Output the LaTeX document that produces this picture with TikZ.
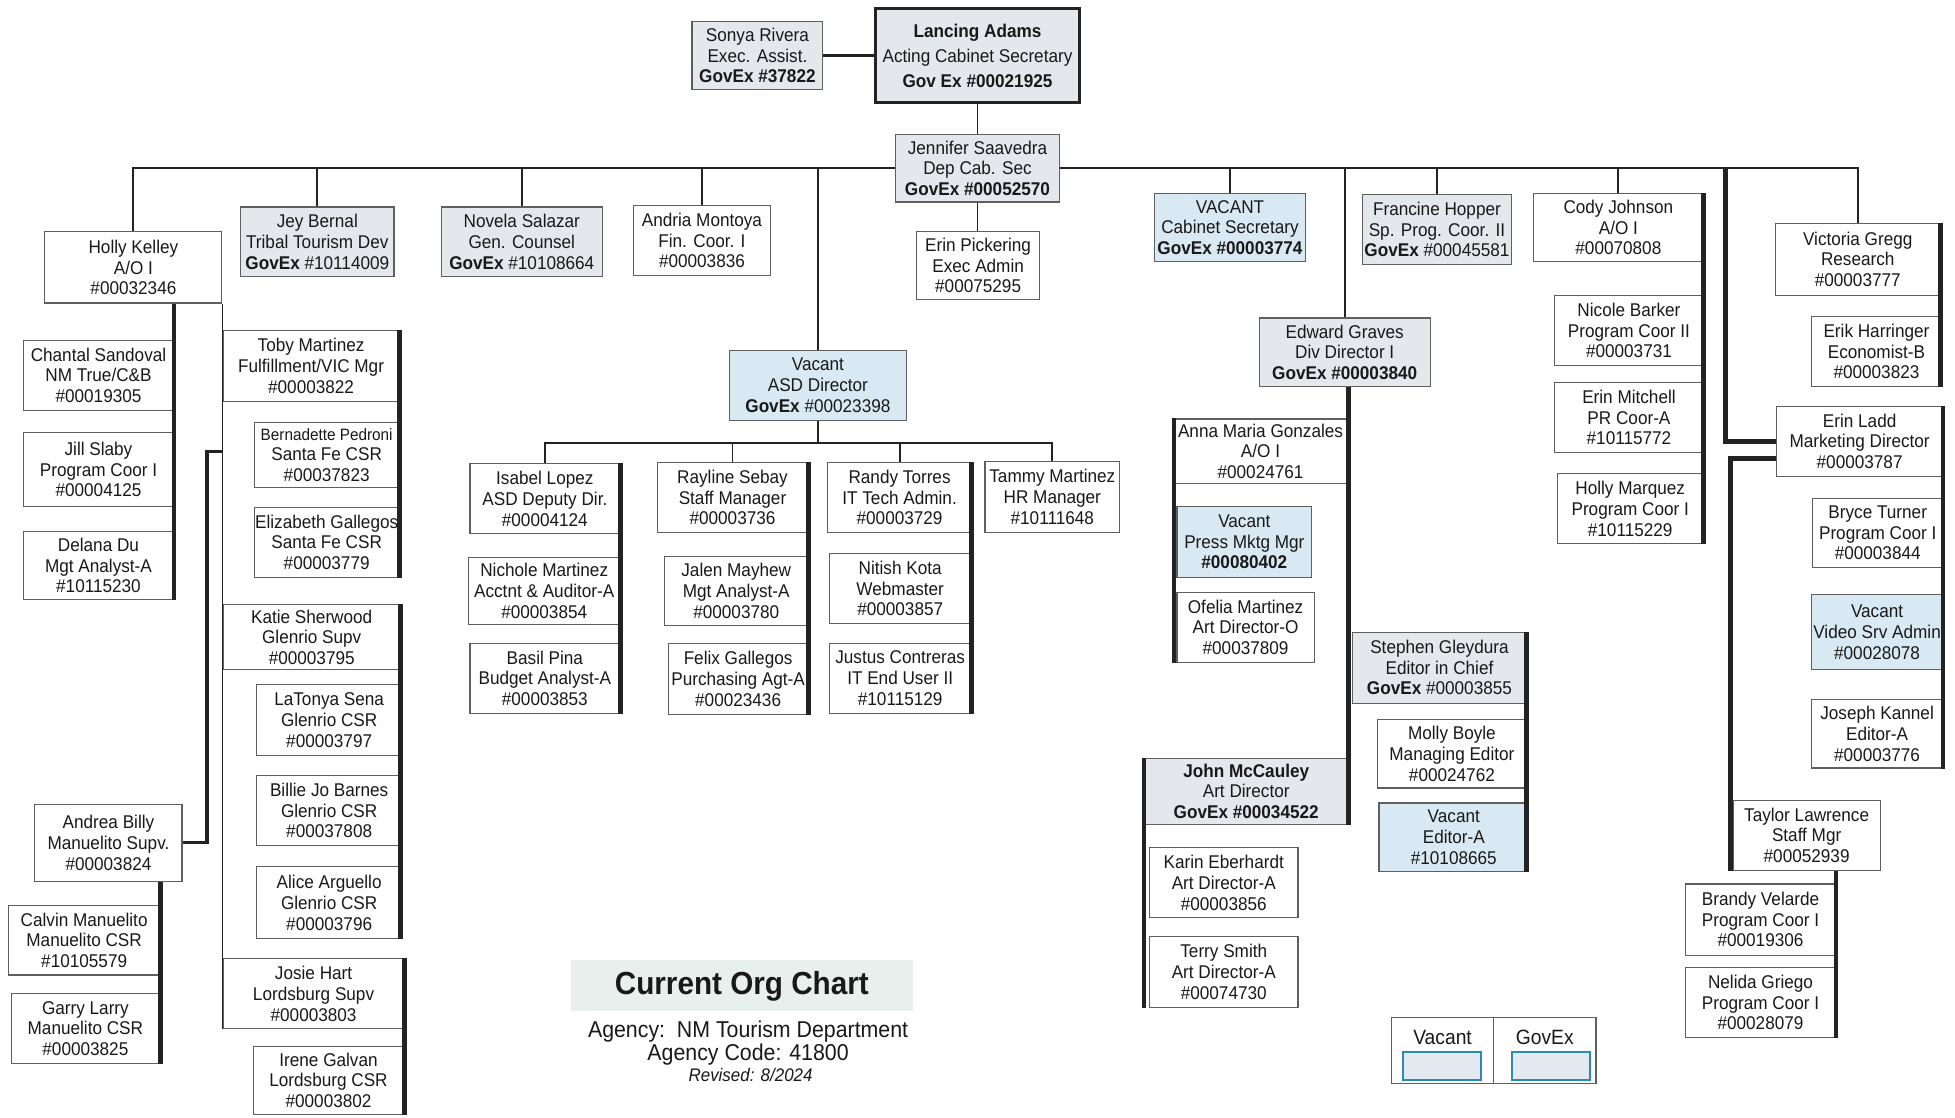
\documentclass[tikz,border=0pt]{standalone}
\usepackage{fontspec}
\setmainfont[FakeStretch=0.93]{Liberation Sans}
\definecolor{govc}{RGB}{228,231,235}
\definecolor{vacc}{RGB}{216,233,243}
\definecolor{boxc}{RGB}{95,95,95}
\definecolor{linec}{RGB}{35,35,35}
\definecolor{txtc}{RGB}{25,25,25}
\definecolor{legb}{RGB}{42,140,180}
\definecolor{legf}{RGB}{228,233,240}
\definecolor{titlef}{RGB}{232,240,237}
\newcommand{\boxfnt}{\fontsize{7.4}{8.3}\selectfont}
\newcommand{\legfnt}{\fontsize{8.3}{9}\selectfont}
\newcommand{\titfnt}{\fontsize{12.8}{14}\selectfont\bfseries}
\newcommand{\agfnt}{\fontsize{9.2}{10}\selectfont}
\newcommand{\obox}[7]{\node[box,#6,minimum width={(#4-#2)*0.5pt},minimum height={(#5-#3)*0.5pt}] (#1) at ({(#2+#4)/2},{(#3+#5)/2}) {#7};}
\begin{document}
\begin{tikzpicture}[x=0.5pt,y=-0.5pt,
  box/.style={draw=boxc,line width=0.45pt,inner sep=0pt,align=center,font=\boxfnt,text=txtc},
  gov/.style={fill=govc},
  vac/.style={fill=vacc},
  wht/.style={fill=white},
  conn/.style={draw=linec,line width=0.75pt},
  heavy/.style={draw=linec,line width=1.9pt},
  legbox/.style={draw=boxc,line width=0.45pt,inner sep=0pt,minimum width=41pt,minimum height=26.5pt},
  swatch/.style={draw=legb,line width=0.9pt,fill=legf,inner sep=0pt,minimum width=31.5pt,minimum height=11pt}
]
\useasboundingbox (0,0) rectangle (1568,896);
\fill[white] (0,0) rectangle (1568,896);

% top
\obox{sr}{555}{17}{660}{72}{gov}{Sonya Rivera\\Exec. Assist.\\\textbf{GovEx \#37822}}
\obox{la}{702}{7}{866}{82}{gov,line width=1.4pt,draw=linec,font=\fontsize{7.4}{10}\selectfont}{\textbf{Lancing Adams}\\Acting Cabinet Secretary\\\textbf{Gov Ex \#00021925}}
\obox{js}{718}{108}{850}{162}{gov}{Jennifer Saavedra\\Dep Cab. Sec\\\textbf{GovEx \#00052570}}
\obox{ep}{735}{186}{834}{240}{wht}{Erin Pickering\\Exec Admin\\\#00075295}

% first row
\obox{hk}{36}{186}{178}{243}{wht}{Holly Kelley\\A/O I\\\#00032346}
\obox{jb}{193}{166}{316}{222}{gov}{Jey Bernal\\Tribal Tourism Dev\\\textbf{GovEx} \#10114009}
\obox{ns}{354}{166}{483}{222}{gov}{Novela Salazar\\Gen. Counsel\\\textbf{GovEx} \#10108664}
\obox{am}{508}{165}{618}{221}{wht}{Andria Montoya\\Fin. Coor. I\\\#00003836}
\obox{asd}{585}{281}{727}{337}{vac}{Vacant\\ASD Director\\\textbf{GovEx} \#00023398}
\obox{vc}{926}{155}{1047}{210}{vac}{VACANT\\Cabinet Secretary\\\textbf{GovEx \#00003774}}
\obox{eg}{1010}{255}{1147}{310}{gov}{Edward Graves\\Div Director I\\\textbf{GovEx \#00003840}}
\obox{fh}{1093}{156}{1212}{212}{gov}{Francine Hopper\\Sp. Prog. Coor. II\\\textbf{GovEx} \#00045581}
\obox{cj}{1230}{155}{1366}{210}{wht}{Cody Johnson\\A/O I\\\#00070808}
\obox{vg}{1424}{179}{1556}{237}{wht}{Victoria Gregg\\Research\\\#00003777}

% left column
\obox{cs}{19}{273}{139}{329}{wht}{Chantal Sandoval\\NM True/C\&B\\\#00019305}
\obox{jsl}{19}{347}{139}{406}{wht}{Jill Slaby\\Program Coor I\\\#00004125}
\obox{dd}{19}{426}{139}{481}{wht}{Delana Du\\Mgt Analyst-A\\\#10115230}
\obox{tm}{179}{265}{320}{322}{wht}{Toby Martinez\\Fulfillment/VIC Mgr\\\#00003822}
\obox{bp}{204}{339}{320}{391}{wht}{{\fontsize{6.6}{8.3}\selectfont Bernadette Pedroni}\\Santa Fe CSR\\\#00037823}
\obox{egl}{204}{407}{320}{463}{wht}{Elizabeth Gallegos\\Santa Fe CSR\\\#00003779}
\obox{ks}{179}{485}{321}{537}{wht}{Katie Sherwood\\Glenrio Supv\\\#00003795}
\obox{ls}{206}{549}{322}{606}{wht}{LaTonya Sena\\Glenrio CSR\\\#00003797}
\obox{bjb}{206}{622}{322}{678}{wht}{Billie Jo Barnes\\Glenrio CSR\\\#00037808}
\obox{aa}{206}{695}{322}{753}{wht}{Alice Arguello\\Glenrio CSR\\\#00003796}
\obox{jh}{179}{769}{324}{825}{wht}{Josie Hart\\Lordsburg Supv\\\#00003803}
\obox{ig}{203}{839}{324}{894}{wht}{Irene Galvan\\Lordsburg CSR\\\#00003802}
\obox{ab}{28}{645}{146}{707}{wht}{Andrea Billy\\Manuelito Supv.\\\#00003824}
\obox{cm}{7}{726}{128}{782}{wht}{Calvin Manuelito\\Manuelito CSR\\\#10105579}
\obox{gl}{9}{797}{128}{853}{wht}{Garry Larry\\Manuelito CSR\\\#00003825}

% ASD team
\obox{il}{377}{372}{497}{428}{wht}{Isabel Lopez\\ASD Deputy Dir.\\\#00004124}
\obox{nm}{376}{447}{497}{501}{wht}{Nichole Martinez\\Acctnt \& Auditor-A\\\#00003854}
\obox{bpi}{377}{516}{497}{572}{wht}{Basil Pina\\Budget Analyst-A\\\#00003853}
\obox{rs}{527}{371}{648}{427}{wht}{Rayline Sebay\\Staff Manager\\\#00003736}
\obox{jm}{533}{446}{648}{502}{wht}{Jalen Mayhew\\Mgt Analyst-A\\\#00003780}
\obox{fg}{536}{516}{648}{573}{wht}{Felix Gallegos\\Purchasing Agt-A\\\#00023436}
\obox{rt}{664}{371}{779}{427}{wht}{Randy Torres\\IT Tech Admin.\\\#00003729}
\obox{nk}{665}{444}{779}{500}{wht}{Nitish Kota\\Webmaster\\\#00003857}
\obox{jc}{665}{516}{779}{572}{wht}{Justus Contreras\\IT End User II\\\#10115129}
\obox{tma}{790}{370}{898}{427}{wht}{Tammy Martinez\\HR Manager\\\#10111648}

% Edward team
\obox{amg}{942}{336}{1080}{388}{wht}{Anna Maria Gonzales\\A/O I\\\#00024761}
\obox{pm}{944}{406}{1052}{463}{vac}{Vacant\\Press Mktg Mgr\\\textbf{\#00080402}}
\obox{om}{944}{475}{1054}{531}{wht}{Ofelia Martinez\\Art Director-O\\\#00037809}
\obox{sg}{1085}{507}{1224}{564}{gov}{Stephen Gleydura\\Editor in Chief\\\textbf{GovEx} \#00003855}
\obox{mb}{1105}{577}{1224}{632}{wht}{Molly Boyle\\Managing Editor\\\#00024762}
\obox{vea}{1106}{644}{1226}{699}{vac}{Vacant\\Editor-A\\\#10108665}
\obox{jmc}{918}{608}{1081}{661}{gov}{\textbf{John McCauley}\\Art Director\\\textbf{GovEx \#00034522}}
\obox{ke}{922}{680}{1041}{736}{wht}{Karin Eberhardt\\Art Director-A\\\#00003856}
\obox{ts}{922}{751}{1041}{808}{wht}{Terry Smith\\Art Director-A\\\#00074730}

% Cody team
\obox{nb}{1247}{237}{1366}{293}{wht}{Nicole Barker\\Program Coor II\\\#00003731}
\obox{emi}{1247}{307}{1366}{363}{wht}{Erin Mitchell\\PR Coor-A\\\#10115772}
\obox{hm}{1249}{380}{1366}{436}{wht}{Holly Marquez\\Program Coor I\\\#10115229}

% right side
\obox{eh}{1453}{254}{1557}{310}{wht}{Erik Harringer\\Economist-B\\\#00003823}
\obox{el}{1425}{326}{1558}{382}{wht}{Erin Ladd\\Marketing Director\\\#00003787}
\obox{bt}{1454}{400}{1558}{455}{wht}{Bryce Turner\\Program Coor I\\\#00003844}
\obox{vv}{1453}{477}{1558}{537}{vac}{Vacant\\Video Srv Admin\\\#00028078}
\obox{jk}{1453}{561}{1558}{616}{wht}{Joseph Kannel\\Editor-A\\\#00003776}
\obox{tl}{1390}{642}{1508}{698}{wht}{Taylor Lawrence\\Staff Mgr\\\#00052939}
\obox{bv}{1352}{709}{1472}{766}{wht}{Brandy Velarde\\Program Coor I\\\#00019306}
\obox{ngr}{1352}{776}{1472}{832}{wht}{Nelida Griego\\Program Coor I\\\#00028079}

% connectors: top
\draw[conn,line width=1.1pt] (sr.east) -- (sr.east -| la.west);
\draw[conn] (la.south) -- (la.south |- js.north);
\draw[conn] (hk.north) |- (js.west);
\draw[conn] (js.east) -| (vg.north);
\draw[conn] (js.south) -- (js.south |- ep.north);
\foreach \n in {jb,ns,am,asd,vc,eg,fh,cj}
  \draw[conn] (\n.north) -- (\n.north |- js.west);

% Erin Ladd and Taylor Lawrence
\coordinate (mkt) at (1384,135);
\draw[heavy] (mkt) |- (el.west);
\coordinate (mkb) at (1388,368);
\draw[heavy] (el.west |- mkb) -- (mkb) -- (mkb |- tl.south);
\draw[heavy] (tl.south -| bv.east) -- (ngr.south east);

% left teams
\draw[heavy] (hk.south -| cs.east) -- (dd.south east);
\draw[conn] (hk.south east) -- (hk.south east |- jh.south);
\coordinate (abt) at (178,362);
\draw[conn,line width=1.3pt] (abt) -- ++(-12,0) |- (ab.east);
\draw[heavy] (ab.south -| cm.east) -- (gl.south east);
\draw[heavy] (tm.north east) -- (tm.north east |- egl.south);
\draw[heavy] (ks.north east) -- (ks.north east |- aa.south);
\draw[heavy] (jh.north east) -- (jh.north east |- ig.south);

% ASD team
\draw[conn] (asd.south) -- ++(0,18) coordinate (asdb);
\draw[conn] (il.north) |- (asdb) -| (tma.north);
\draw[conn] (rs.north) -- (rs.north |- asdb);
\draw[conn] (rt.north) -- (rt.north |- asdb);
\draw[heavy] (il.north east) -- (il.north east |- bpi.south);
\draw[heavy] (rs.north east) -- (rs.north east |- fg.south);
\draw[heavy] (rt.north east) -- (rt.north east |- jc.south);

% Edward team
\draw[heavy] (eg.south -| jmc.east) -- (jmc.south east);
\draw[heavy] (amg.north west) -- (amg.north west |- om.south);
\draw[heavy] (sg.north east) -- (sg.north east |- vea.south);
\draw[heavy] (jmc.north west) -- (jmc.north west |- ts.south);

% Cody, Victoria, Erin Ladd teams
\draw[heavy] (cj.north east) -- (cj.north east |- hm.south);
\draw[heavy] (vg.north east) -- (vg.north east |- eh.south);
\draw[heavy] (el.north east) -- (el.north east |- jk.south);

% title block
\node[fill=titlef,minimum width=137pt,minimum height=20.5pt,inner sep=0pt] (tbox) at (595,790.5) {};
\node[font=\titfnt,text=txtc,inner sep=0pt] (title) at (595,791) {Current Org Chart};
\node[font=\agfnt,text=txtc,inner sep=0pt] (ag) at (600,827) {Agency:\ \ NM Tourism Department};
\node[font=\agfnt,text=txtc,inner sep=0pt] (ac) at (600,846) {Agency Code: 41800};
\node[font=\fontsize{7.3}{8}\selectfont\itshape,text=txtc,inner sep=0pt] (rv) at (602,862) {Revised: 8/2024};

% legend
\node[legbox] (lv) at (1157,842.5) {};
\node[legbox] (lg) at (1239,842.5) {};
\node[font=\legfnt,text=txtc,inner sep=0pt] (lvt) at (1157,832) {Vacant};
\node[font=\legfnt,text=txtc,inner sep=0pt] (lgt) at (1239,832) {GovEx};
\node[swatch] (lvs) at (1156.5,855) {};
\node[swatch] (lgs) at (1244,855) {};
\end{tikzpicture}
\end{document}
